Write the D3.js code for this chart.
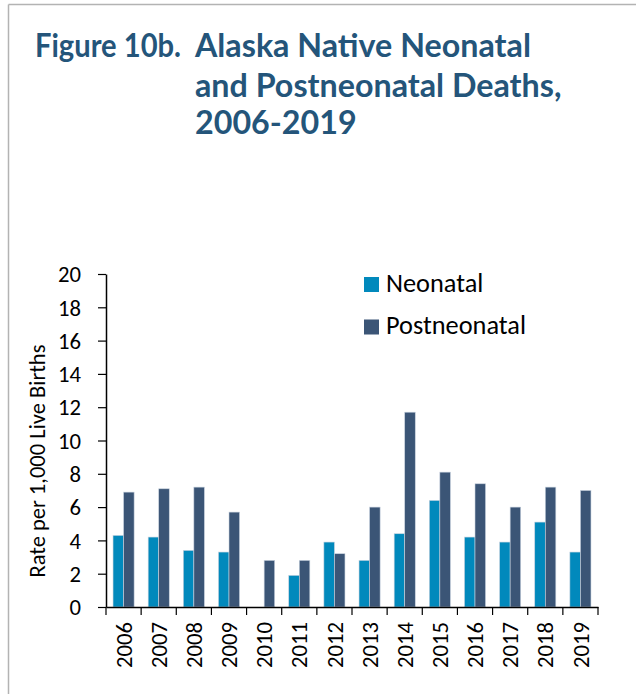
<!DOCTYPE html>
<html><head><meta charset="utf-8">
<script src="https://cdn.jsdelivr.net/npm/d3@7"></script>
<style>body{margin:0;background:#fff;}</style>
</head><body>
<script>
const years = ["2006","2007","2008","2009","2010","2011","2012","2013","2014","2015","2016","2017","2018","2019"];
const neonatal = [4.3,4.2,3.4,3.3,0,1.9,3.9,2.8,4.4,6.4,4.2,3.9,5.1,3.3];
const postneonatal = [6.9,7.1,7.2,5.7,2.8,2.8,3.2,6.0,11.7,8.1,7.4,6.0,7.2,7.0];
const seriesNames = ["Neonatal","Postneonatal"];
const colors = ["#0189BC","#3B5576"];
const yTicks = [0,2,4,6,8,10,12,14,16,18,20];
const titleLines = ["Figure 10b.","Alaska Native Neonatal","and Postneonatal Deaths,","2006-2019"];

(function(){
const W=636,H=694;
const svg=d3.select("body").append("svg").attr("width",W).attr("height",H);
svg.append("rect").attr("width",W).attr("height",H).attr("fill","#fff");
// frame
svg.append("line").attr("x1",8.5).attr("x2",W).attr("y1",4.5).attr("y2",4.5).attr("stroke","#b3b3b3").attr("stroke-width",1.5);
svg.append("line").attr("x1",8.5).attr("x2",8.5).attr("y1",4.5).attr("y2",H).attr("stroke","#b3b3b3").attr("stroke-width",1.5);

// fit helper: size so a text's length matches target width
function fitSize(sel, target, base){
  sel.attr("font-size",base);
  const w=sel.node().getComputedTextLength();
  return base*target/w;
}

// title
const tf="Lato, 'Open Sans', sans-serif";
const t=svg.append("g").attr("fill","#24557A").attr("font-family",tf).attr("font-weight","bold");
const l0=t.append("text").attr("x",35).attr("y",57).text(titleLines[0]);
const l1=t.append("text").attr("x",195).attr("y",57).text(titleLines[1]);
const l2=t.append("text").attr("x",195).attr("y",97).text(titleLines[2]);
const l3=t.append("text").attr("x",195).attr("y",134).text(titleLines[3]);
const ts=fitSize(l1,336,28);
t.selectAll("text").attr("font-size",ts);
l0.attr("textLength",146).attr("lengthAdjust","spacingAndGlyphs");

const pl=106,pr=598,pt=274,pb=607;
const x=d3.scaleBand().domain(years).range([pl,pr]).paddingInner(0.4).paddingOuter(0.2);
const x1=d3.scaleBand().domain(seriesNames).range([0,x.bandwidth()]);
const y=d3.scaleLinear().domain([0,20]).range([pb,pt]);

const data=years.map((yr,i)=>({yr,vals:[neonatal[i],postneonatal[i]]}));
const g=svg.append("g");
g.selectAll("g.yr").data(data).join("g").attr("transform",d=>`translate(${x(d.yr)},0)`)
 .selectAll("rect").data(d=>d.vals.map((v,k)=>({v,k})).filter(d=>d.v>0)).join("rect")
 .attr("x",d=>x1(seriesNames[d.k])).attr("width",x1.bandwidth())
 .attr("y",d=>y(d.v)).attr("height",d=>pb-y(d.v))
 .attr("fill",d=>colors[d.k]).attr("stroke","#c9d3df").attr("stroke-width",0.6);

const lf="Carlito, Calibri, 'Open Sans', sans-serif";
// y axis
const ya=svg.append("g").attr("transform",`translate(${pl},0)`)
 .call(d3.axisLeft(y).tickValues(yTicks).tickSize(8).tickSizeOuter(0));
ya.select(".domain").attr("stroke","#000").attr("stroke-width",1.5);
ya.selectAll(".tick line").attr("stroke","#000").attr("stroke-width",1.2);
const yt=ya.selectAll(".tick text").attr("font-family",lf).attr("fill","#000").attr("x",-25).attr("dy","0.34em");
const tickSize=fitSize(ya.select(".tick:last-of-type text"),23,20);
yt.attr("font-size",tickSize);

// x axis
const xa=svg.append("g").attr("transform",`translate(0,${pb})`)
 .call(d3.axisBottom(x).tickSize(0).tickSizeOuter(0));
xa.select(".domain").attr("stroke","#000").attr("stroke-width",1.5);
xa.selectAll(".tick text").attr("font-family",lf).attr("fill","#000").attr("font-size",tickSize)
 .attr("transform","rotate(-90)").attr("text-anchor","end").attr("x",-15).attr("y",0).attr("dy","0.36em");
// boundary ticks
const bounds=years.map(yr=>x(yr)-x.step()*x.paddingInner()/2);
bounds[0]=pl; bounds.push(pr);
svg.append("g").selectAll("line").data(bounds).join("line")
 .attr("x1",d=>d).attr("x2",d=>d).attr("y1",pb).attr("y2",pb+8)
 .attr("stroke","#000").attr("stroke-width",1.2);

// y title
const ytl=svg.append("text").attr("transform","translate(45,461) rotate(-90)").attr("text-anchor","middle")
 .attr("font-family",lf).attr("fill","#000").text("Rate per 1,000 Live Births");
ytl.attr("font-size",fitSize(ytl,233,20));

// legend
const lg=svg.append("g");
let legSize=null;
seriesNames.forEach((s,i)=>{
 const yy=277+i*42.5;
 lg.append("rect").attr("x",364).attr("y",yy).attr("width",15).attr("height",15).attr("fill",colors[i]);
 const tx=lg.append("text").attr("x",386).attr("y",yy+14.5).attr("font-family",lf).attr("fill","#000").text(s);
 if(i===1) legSize=fitSize(tx,140,20);
});
lg.selectAll("text").attr("font-size",legSize);
})();
</script>
</body></html>
